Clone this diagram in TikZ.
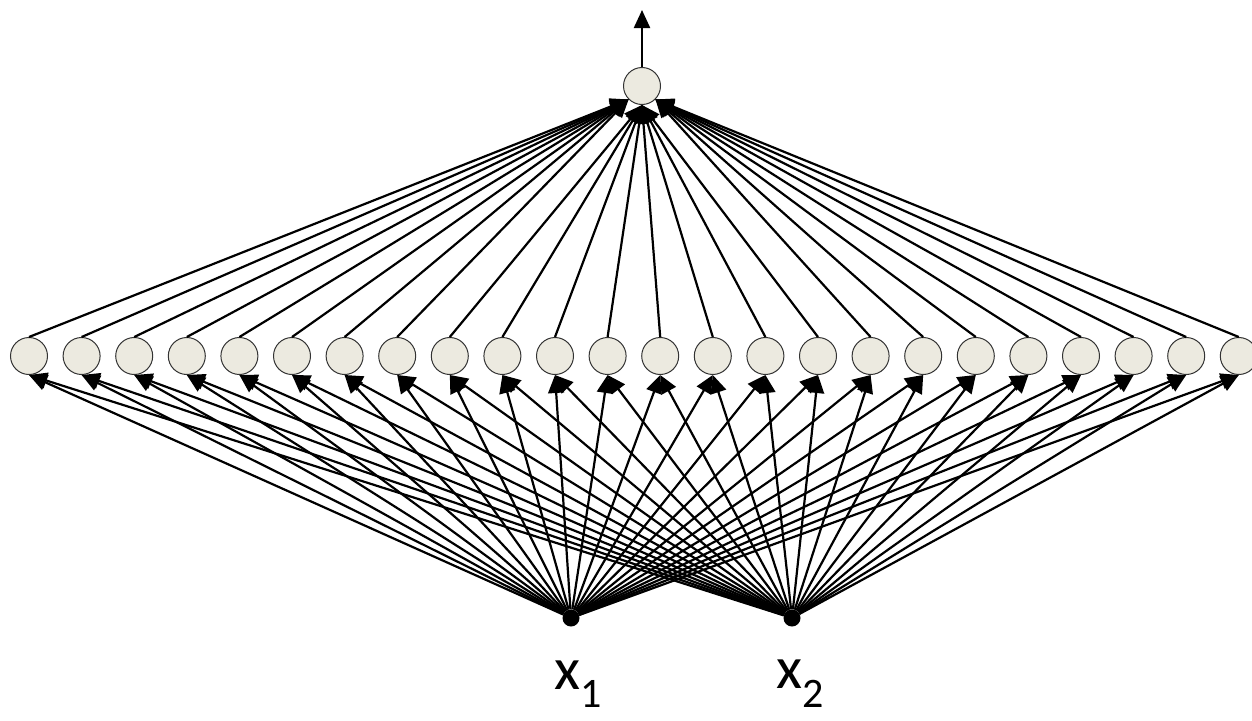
\documentclass[tikz,border=0pt]{standalone}
\usepackage{fontspec}
\setmainfont{Carlito}
\usetikzlibrary{arrows.meta}
\definecolor{nncream}{HTML}{ECEAE0}
\definecolor{nnedge}{gray}{0.2}

\begin{document}
\begin{tikzpicture}[x=1pt,y=-1pt,
  hidnode/.style={circle,draw=nnedge,fill=nncream,minimum size=37pt,
    inner sep=0pt,line width=1pt},
  innode/.style={circle,fill=black,minimum size=17pt,inner sep=0pt},
  conn/.style={-{Triangle[length=18pt,width=16pt]},line width=2.2pt}]
  \useasboundingbox (0,0) rectangle (1252,720);
  % output unit
  \node[hidnode] (out) at (642,86) {};
  \coordinate (top) at (642,10);
  \draw[conn] (out) -- (top);
  % inputs
  \node[innode] (in1) at (571,618) {};
  \node[innode] (in2) at (792,618) {};
  \node[font=\fontsize{60}{66}\selectfont] (lab1) at (578,684)
    {x\textsubscript{1}};
  \node[font=\fontsize{60}{66}\selectfont] (lab2) at (800,684)
    {x\textsubscript{2}};
  % hidden layer
  \foreach \i in {1,...,24} {
    \node[hidnode] (h\i) at ({29+52.6*(\i-1)},356) {};
    \ifnum\i<9 \def\site{south west}\else
      \ifnum\i<17 \def\site{south}\else \def\site{south east}\fi\fi
    \draw[conn] (h\i.north) -- (out.\site);
    \draw[conn] (in1) -- (h\i.south);
    \draw[conn] (in2) -- (h\i.south);
  }
\end{tikzpicture}
\end{document}
